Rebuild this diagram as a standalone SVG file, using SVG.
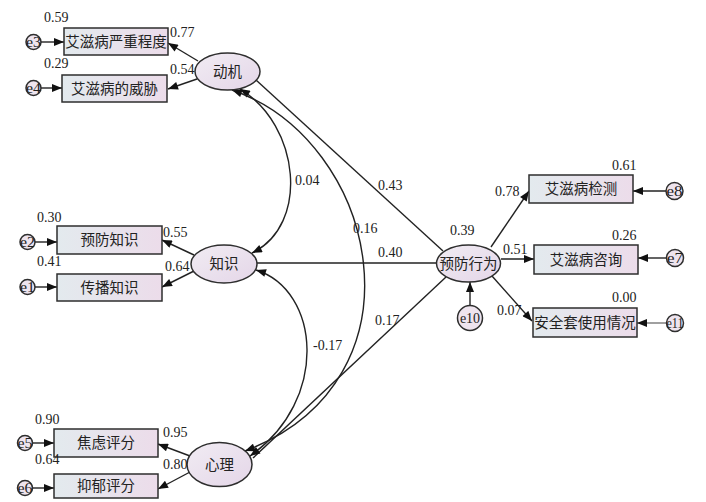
<svg xmlns="http://www.w3.org/2000/svg" width="706" height="502" viewBox="0 0 706 502">
<style>
.box{stroke:#2e2e2e;stroke-width:1.5;fill:url(#gb)}
.lat{stroke:#2e2e2e;stroke-width:1.5;fill:url(#ge)}
.err{stroke:#2e2e2e;stroke-width:1.5;fill:#eee4ee}
.cn{font-family:"Noto Sans CJK SC","Noto Sans CJK JP",sans-serif;font-size:14.5px;fill:#222;text-anchor:middle}
.num{font-family:"Liberation Serif","Times New Roman",serif;font-size:14px;fill:#222}
.et{font-family:"Liberation Serif","Times New Roman",serif;font-size:14px;fill:#222;text-anchor:middle}
.ln{stroke:#222;stroke-width:1.4;fill:none}
.ar{marker-end:url(#ah)}
.dbl{marker-start:url(#ah);marker-end:url(#ah)}
</style>
<defs>
<linearGradient id="gb" x1="0" y1="0" x2="1" y2="0">
<stop offset="0" stop-color="#e3eaee"/>
<stop offset="1" stop-color="#ecdcea"/>
</linearGradient>
<linearGradient id="ge" x1="0" y1="0" x2="1" y2="1">
<stop offset="0" stop-color="#f1ecf3"/>
<stop offset="1" stop-color="#e4d6e8"/>
</linearGradient>
<marker id="ah" viewBox="0 0 10 8" refX="10" refY="4" markerWidth="11" markerHeight="8" orient="auto-start-reverse" markerUnits="userSpaceOnUse">
<path d="M0,0 L10,4 L0,8 z" fill="#111"/>
</marker>
<clipPath id="clip"><rect x="0" y="0" width="685" height="502"/></clipPath>
</defs>
<rect width="706" height="502" fill="#fff"/>
<g clip-path="url(#clip)">
<g id="connectors">
<path class="ln ar" d="M41,42 L64,42"/>
<path class="ln ar" d="M41,88 L62,88"/>
<path class="ln ar" d="M35,242 L57,242"/>
<path class="ln ar" d="M35,287 L57,287"/>
<path class="ln ar" d="M33,443 L54,443"/>
<path class="ln ar" d="M33,488 L54,488"/>
<path class="ln ar" d="M198,61 L168,43"/>
<path class="ln ar" d="M197,79 L168,89"/>
<path class="ln ar" d="M194,255 L162,240"/>
<path class="ln ar" d="M194,271 L162,287"/>
<path class="ln ar" d="M190,456 L158,444"/>
<path class="ln ar" d="M190,472 L158,489"/>
<path class="ln" d="M256,80 L443,251"/>
<path class="ln" d="M257,263 L437,263"/>
<path class="ln" d="M446,277 L253,458"/>
<path class="ln dbl" d="M240,89 C300,125 310,225 252,253"/>
<path class="ln dbl" d="M232,90 C378,140 432,380 245,451"/>
<path class="ln dbl" d="M256,270 C320,290 330,400 250,456"/>
<path class="ln ar" d="M491,247 L529,191"/>
<path class="ln ar" d="M501,259 L534,259"/>
<path class="ln ar" d="M492,276 L532,321"/>
<path class="ln ar" d="M470,306 L470,282"/>
<path class="ln ar" d="M666,191 L633,191"/>
<path class="ln ar" d="M666,258 L638,258"/>
<path class="ln ar" style="stroke:#777" d="M666,323 L637,323"/>
</g>
<g id="n_dongji"><ellipse class="lat" cx="227.5" cy="71.5" rx="32.5" ry="18.5"/><text class="cn" x="227.5" y="76.5">动机</text></g>
<g id="n_zhishi"><ellipse class="lat" cx="224" cy="264" rx="33" ry="19"/><text class="cn" x="224" y="269">知识</text></g>
<g id="n_xinli"><ellipse class="lat" cx="219.5" cy="464.5" rx="32.5" ry="22"/><text class="cn" x="219.5" y="469.5">心理</text></g>
<g id="n_yufang"><ellipse class="lat" cx="468.5" cy="263.5" rx="32" ry="18.5"/><text class="cn" x="468.5" y="268.5">预防行为</text></g>
<g id="b1"><rect class="box" x="64" y="28" width="104" height="27"/><text class="cn" x="116" y="46.5">艾滋病严重程度</text></g>
<g id="b2"><rect class="box" x="62" y="75" width="105" height="27"/><text class="cn" x="114.5" y="93.5">艾滋病的威胁</text></g>
<g id="b3"><rect class="box" x="57" y="226" width="105" height="28"/><text class="cn" x="109.5" y="245">预防知识</text></g>
<g id="b4"><rect class="box" x="57" y="274" width="105" height="27"/><text class="cn" x="109.5" y="292.5">传播知识</text></g>
<g id="b5"><rect class="box" x="54" y="429" width="104" height="28"/><text class="cn" x="106" y="448">焦虑评分</text></g>
<g id="b6"><rect class="box" x="54" y="474" width="104" height="24"/><text class="cn" x="106" y="491">抑郁评分</text></g>
<g id="b7"><rect class="box" x="529" y="175" width="104" height="28"/><text class="cn" x="581" y="194">艾滋病检测</text></g>
<g id="b8"><rect class="box" x="534" y="245" width="104" height="29"/><text class="cn" x="586" y="264.5">艾滋病咨询</text></g>
<g id="b9"><rect class="box" x="533" y="308" width="104" height="29"/><text class="cn" x="585" y="327.5">安全套使用情况</text></g>
<g id="e3"><circle class="err" cx="33.5" cy="42" r="7.5"/><text class="et" x="33.5" y="47" textLength="15" lengthAdjust="spacingAndGlyphs">e3</text></g>
<g id="e4"><circle class="err" cx="33.5" cy="88" r="7.5"/><text class="et" x="33.5" y="93" textLength="15" lengthAdjust="spacingAndGlyphs">e4</text></g>
<g id="e2"><circle class="err" cx="27.5" cy="242" r="7.5"/><text class="et" x="27.5" y="247" textLength="15" lengthAdjust="spacingAndGlyphs">e2</text></g>
<g id="e1"><circle class="err" cx="27.5" cy="287" r="7.5"/><text class="et" x="27.5" y="292" textLength="15" lengthAdjust="spacingAndGlyphs">e1</text></g>
<g id="e5"><circle class="err" cx="25" cy="443" r="7.5"/><text class="et" x="25" y="448" textLength="15" lengthAdjust="spacingAndGlyphs">e5</text></g>
<g id="e6"><circle class="err" cx="25" cy="488" r="7.5"/><text class="et" x="25" y="493" textLength="15" lengthAdjust="spacingAndGlyphs">e6</text></g>
<g id="e8"><circle class="err" cx="674.5" cy="191" r="8.5"/><text class="et" x="674.5" y="196" textLength="16" lengthAdjust="spacingAndGlyphs">e8</text></g>
<g id="e7"><circle class="err" cx="675" cy="258" r="8.5"/><text class="et" x="675" y="263" textLength="16" lengthAdjust="spacingAndGlyphs">e7</text></g>
<g id="e11"><circle class="err" cx="675" cy="323" r="8.5"/><text class="et" x="675" y="328" textLength="17" lengthAdjust="spacingAndGlyphs">e11</text></g>
<g id="e10"><circle class="err" cx="470" cy="318" r="12.5"/><text class="et" x="470" y="323">e10</text></g>
<g id="labels">
<text class="num" x="44" y="22">0.59</text>
<text class="num" x="170" y="37">0.77</text>
<text class="num" x="44" y="68">0.29</text>
<text class="num" x="170" y="74">0.54</text>
<text class="num" x="37" y="222">0.30</text>
<text class="num" x="163" y="237">0.55</text>
<text class="num" x="37" y="266">0.41</text>
<text class="num" x="165" y="271">0.64</text>
<text class="num" x="35" y="424">0.90</text>
<text class="num" x="163" y="437">0.95</text>
<text class="num" x="35" y="464">0.64</text>
<text class="num" x="163" y="469">0.80</text>
<text class="num" x="295" y="185">0.04</text>
<text class="num" x="353" y="233">0.16</text>
<text class="num" x="378" y="190">0.43</text>
<text class="num" x="378" y="257">0.40</text>
<text class="num" x="375" y="325">0.17</text>
<text class="num" x="313" y="350">-0.17</text>
<text class="num" x="450" y="235">0.39</text>
<text class="num" x="495" y="196">0.78</text>
<text class="num" x="503" y="254">0.51</text>
<text class="num" x="497" y="315">0.07</text>
<text class="num" x="612" y="170">0.61</text>
<text class="num" x="612" y="240">0.26</text>
<text class="num" x="612" y="302">0.00</text>
</g>
</g>
</svg>
